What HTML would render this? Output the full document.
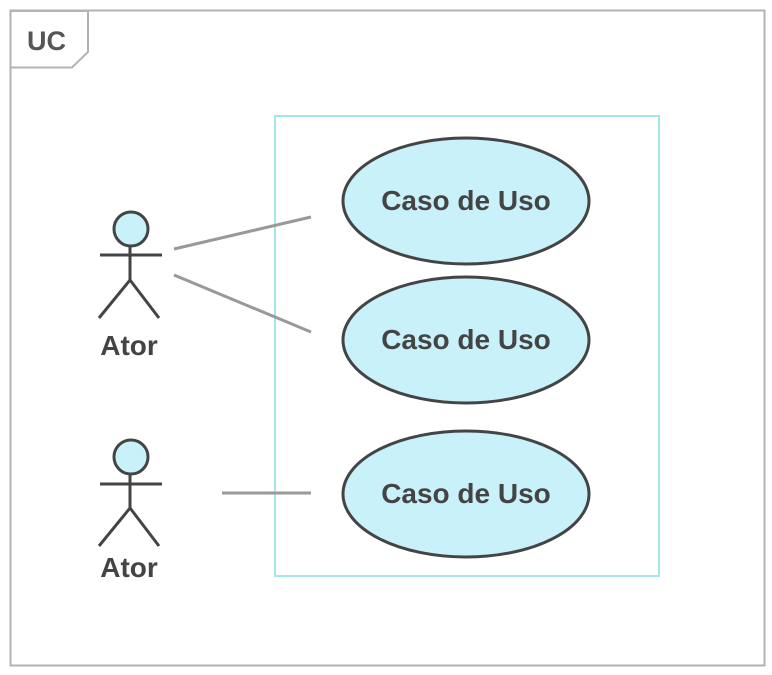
<!DOCTYPE html>
<html><head><style>body{margin:0;background:#fff}svg{display:block}</style></head>
<body>
<svg width="772" height="675" xmlns="http://www.w3.org/2000/svg" font-family="Liberation Sans, sans-serif" font-weight="bold">
<rect x="10.5" y="10.5" width="754" height="655" fill="#fff" stroke="#b3b3b3" stroke-width="2"/>
<path d="M11 11 H88 V52 L72 67.5 H11" fill="none" stroke="#b3b3b3" stroke-width="2"/>
<text x="27" y="50" font-size="27" fill="#555">UC</text>
<rect x="275" y="116" width="384" height="460" fill="none" stroke="#a3e6f0" stroke-width="2"/>
<g stroke="#999" stroke-width="3">
<line x1="174" y1="249" x2="311" y2="217"/>
<line x1="174" y1="275" x2="311" y2="332"/>
<line x1="222" y1="493" x2="311" y2="493"/>
</g>
<g fill="#c9f1fa" stroke="#444" stroke-width="3">
<ellipse cx="466" cy="201" rx="123" ry="63"/>
<ellipse cx="466" cy="340" rx="123" ry="63"/>
<ellipse cx="466" cy="494" rx="123" ry="63"/>
</g>
<g font-size="28" fill="#444" text-anchor="middle">
<text x="466" y="210">Caso de Uso</text>
<text x="466" y="349">Caso de Uso</text>
<text x="466" y="503">Caso de Uso</text>
</g>
<g stroke="#444" stroke-width="3" fill="none">
<circle cx="131" cy="229" r="17" fill="#c9f1fa"/>
<line x1="100" y1="255" x2="162" y2="255"/><line x1="130" y1="246" x2="130" y2="280"/>
<polyline points="99,318 130,280 159,318"/>
<circle cx="131" cy="457" r="17" fill="#c9f1fa"/>
<line x1="100" y1="484" x2="162" y2="484"/><line x1="130" y1="474" x2="130" y2="508"/>
<polyline points="99,546 130,508 159,546"/>
</g>
<g font-size="28" fill="#444" text-anchor="middle">
<text x="129" y="355">Ator</text>
<text x="129" y="577">Ator</text>
</g>
</svg>
</body></html>
